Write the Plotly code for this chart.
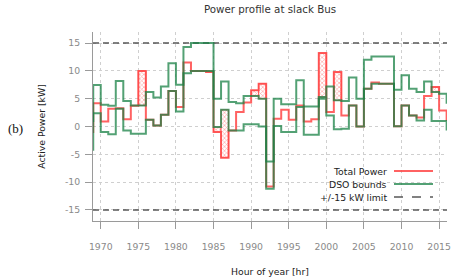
import plotly.graph_objects as go

# ---------------- data ----------------
hours = list(range(1968, 2017))

total_power = [
    -1.0, 4.2, 0.9, 3.2, 3.3, 1.3, 3.75, 10.0, 1.2, 0.2,
    2.1, 6.4, 3.5, 11.5, 10.0, 10.0, 9.8, -1.0, -5.6, -0.7,
    2.6, 4.3, 6.5, 7.7, -10.8, 1.4, 3.0, 1.2, 3.8, 0.9,
    1.3, 13.2, 2.6, 9.8, 2.0, 3.8, 0.0, 6.8, 7.9, 7.7,
    7.7, 0.05, 3.8, 2.0, 1.6, 5.5, 7.1, 2.9, 1.0,
]

dso_upper = [
    1.0, 7.45, 3.9, 3.75, 8.2, 4.6, 3.8, 3.8, 6.2, 5.2,
    7.2, 11.4, 7.5, 14.3, 15.0, 15.0, 15.0, 5.0, 8.1, 4.4,
    4.2, 5.5, 5.5, 5.0, -6.3, 5.0, 4.0, 4.0, 8.3, 3.6,
    3.6, 5.3, 7.2, 4.7, 4.6, 8.8, 5.0, 12.0, 12.6, 12.6,
    12.6, 6.6, 9.2, 6.8, 6.2, 8.1, 6.2, 5.9, 4.1,
]

dso_lower = [
    -4.2, 2.4, -1.0, -1.4, 3.2, -0.7, -1.3, -1.3, 1.2, 0.2,
    2.1, 6.4, 2.7, 9.6, 10.0, 10.0, 10.0, -0.1, 3.0, -0.7,
    -0.7, 0.4, 0.4, 0.0, -11.2, 0.1, -1.0, -1.0, 3.5, -1.5,
    -1.5, 5.0, 2.0, -0.5, -0.4, 3.8, 0.0, 6.8, 7.7, 7.7,
    7.7, 0.05, 3.8, 2.0, 1.1, 3.0, 1.0, 1.0, -0.7,
]

limit_kw = [15, -15]
x_ticks = list(range(1970, 2016, 5))
y_ticks = list(range(-15, 16, 5))
x_range = [1968.97, 2016.05]
y_range = [-17, 17]

legend_labels = ["Total Power", "DSO bounds", "+/-15 kW limit"]

# ---------------- styles ----------------
RED = "rgba(255,70,70,0.85)"
GREEN = "rgba(25,130,70,0.75)"
LIMIT = "rgba(70,70,70,0.9)"
FONT = "DejaVu Sans"
TICK_COLOR = "#8a8a8a"
AXIS_COLOR = "#9a9a9a"

fig = go.Figure()

# hatched areas where total power leaves the DSO band
for i, h in enumerate(hours):
    p = total_power[i]
    if p > dso_upper[i]:
        b = dso_upper[i]
    elif p < dso_lower[i]:
        b = dso_lower[i]
    else:
        continue
    fig.add_trace(go.Scatter(
        x=[h, h + 1, h + 1, h, h], y=[b, b, p, p, b],
        mode="lines", fill="toself",
        line=dict(color=RED, width=1),
        fillcolor="rgba(255,255,255,0)",
        fillpattern=dict(shape="x", fgcolor="rgba(255,70,70,0.95)",
                         bgcolor="rgba(255,255,255,1)", size=3, solidity=0.4),
        showlegend=False, hoverinfo="skip",
    ))

# total power
fig.add_trace(go.Scatter(x=hours, y=total_power, mode="lines", line_shape="hv",
                         line=dict(color=RED, width=2), showlegend=False))

# +/- limits
for lim in limit_kw:
    fig.add_trace(go.Scatter(x=x_range, y=[lim, lim], mode="lines",
                             line=dict(color=LIMIT, width=1.5, dash="6px,4px"),
                             showlegend=False, hoverinfo="skip"))

# DSO bounds
for series in (dso_upper, dso_lower):
    fig.add_trace(go.Scatter(x=hours, y=series, mode="lines", line_shape="hv",
                             line=dict(color=GREEN, width=2), showlegend=False))

# ---------------- manual gnuplot-style legend ----------------
ML, MR, MT, MB = 93, 10, 32, 59
W, H = 457, 280
pw, ph = W - ML - MR, H - MT - MB


def px(xp):
    return (xp - ML) / pw


def py(yp):
    return (H - MB - yp) / ph


legend_rows = [171, 184, 197]
legend_styles = [dict(color=RED, width=2), dict(color=GREEN, width=2),
                 dict(color=LIMIT, width=1.5, dash="dash")]
for label, row, style in zip(legend_labels, legend_rows, legend_styles):
    fig.add_annotation(x=px(389), y=py(row), xref="paper", yref="paper",
                       text=label, showarrow=False, xanchor="right", yanchor="middle",
                       font=dict(family=FONT, size=9.3, color="#222"))
    fig.add_shape(type="line", xref="paper", yref="paper",
                  x0=px(394), x1=px(433), y0=py(row), y1=py(row), line=style)

# "(b)" label
fig.add_annotation(x=px(15), y=py(128), xref="paper", yref="paper", text="(b)",
                   showarrow=False, xanchor="center", yanchor="middle",
                   font=dict(family="Liberation Serif", size=13, color="#111"))

fig.update_layout(
    width=W, height=H,
    margin=dict(l=ML, r=MR, t=MT, b=MB, autoexpand=False),
    paper_bgcolor="white", plot_bgcolor="white",
    title=dict(text="Power profile at slack Bus", x=0.5, xref="paper",
               y=1 - 9 / H, yanchor="middle",
               font=dict(family=FONT, size=10.3, color="#333")),
    font=dict(family=FONT, size=9.3, color="#222"),
    showlegend=False,
)

fig.update_xaxes(
    range=x_range, tickvals=x_ticks, ticktext=[str(v) for v in x_ticks],
    showgrid=True, gridcolor="#cfcfcf", griddash="dot", gridwidth=1,
    showline=True, linecolor=AXIS_COLOR, linewidth=1,
    ticks="outside", ticklen=7, tickcolor=AXIS_COLOR,
    tickfont=dict(family=FONT, size=9.3, color=TICK_COLOR),
    ticklabelstandoff=10, automargin=False,
    zeroline=False,
    title=dict(text="Hour of year [hr]", standoff=17,
               font=dict(family=FONT, size=9.3, color="#222")),
)

fig.update_yaxes(
    range=y_range, tickvals=y_ticks, ticktext=[str(v) for v in y_ticks],
    showgrid=True, gridcolor="#cfcfcf", griddash="dot", gridwidth=1,
    showline=True, linecolor=AXIS_COLOR, linewidth=1,
    ticks="outside", ticklen=7, tickcolor=AXIS_COLOR,
    tickfont=dict(family=FONT, size=9.3, color=TICK_COLOR),
    ticklabelstandoff=3, automargin=False,
    zeroline=False,
    title=dict(text="Active Power [kW]", standoff=17,
               font=dict(family=FONT, size=9.3, color="#222")),
)

fig.write_html(
    "out.html",
    config={"displayModeBar": False},
    post_script="document.body.style.margin='0px';document.body.style.overflow='hidden';",
)
